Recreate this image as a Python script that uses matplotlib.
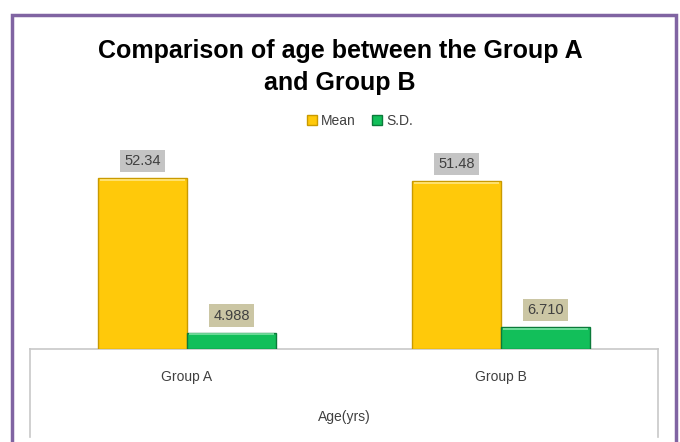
import numpy as np
import matplotlib
matplotlib.use("Agg")
import matplotlib.pyplot as plt
from matplotlib.patches import Rectangle
from matplotlib.lines import Line2D

# data
groups = ["Group A", "Group B"]
mean_age = [52.34, 51.48]
sd_age = [4.988, 6.710]
mean_labels = ["52.34", "51.48"]
sd_labels = ["4.988", "6.710"]

FONT = ["Liberation Sans Narrow", "Liberation Sans", "DejaVu Sans"]
plt.rcParams["font.family"] = FONT

W, H = 680, 442
fig = plt.figure(figsize=(W / 100, H / 100), dpi=100)


def fx(px):
    return px / W


def fy(py):
    return 1 - py / H


# purple outer frame (bottom edge falls outside the picture)
fig.patches.append(Rectangle((fx(12), fy(470)), fx(676) - fx(12), fy(15) - fy(470),
                             transform=fig.transFigure, fill=False,
                             edgecolor="#8064A2", linewidth=2.5))

ax = fig.add_axes([fx(30), fy(349), fx(658) - fx(30), fy(140) - fy(349)])

x = np.arange(len(groups))
w = 0.283
b1 = ax.bar(x - w / 2, mean_age, w, color="#FFC90A", edgecolor="#C99A00",
            linewidth=1.0, label="Mean", zorder=3)
b2 = ax.bar(x + w / 2, sd_age, w, color="#12BF5A", edgecolor="#0B7A3A",
            linewidth=1.0, label="S.D.", zorder=3)

# light highlight at the top edge of each bar (bevel look)
for bars, hl in ((b1, "#FFE680"), (b2, "#7FE3A6")):
    for r in bars:
        ax.plot([r.get_x() + 0.006, r.get_x() + r.get_width() - 0.006],
                [r.get_height() - 0.5, r.get_height() - 0.5],
                color=hl, lw=1.2, zorder=4, solid_capstyle="butt")

for r, t in zip(b1, mean_labels):
    ax.annotate(t, (r.get_x() + r.get_width() / 2, r.get_height()),
                xytext=(0, 17), textcoords="offset pixels", ha="center", va="center",
                fontsize=10.5, color="#404040",
                bbox=dict(boxstyle="square,pad=0.3", fc="#C4C4C4", ec="none"))
for r, t in zip(b2, sd_labels):
    ax.annotate(t, (r.get_x() + r.get_width() / 2, r.get_height()),
                xytext=(0, 17), textcoords="offset pixels", ha="center", va="center",
                fontsize=10.5, color="#404040",
                bbox=dict(boxstyle="square,pad=0.3", fc="#CBC6A4", ec="none"))

ax.set_xlim(-0.5, 1.5)
ax.set_ylim(0, 64)
ax.set_yticks([])
ax.set_xticks(x)
ax.set_xticklabels(groups, fontsize=10, color="#404040")
ax.tick_params(axis="x", length=0, pad=15)
ax.set_xlabel("Age(yrs)", fontsize=10, color="#404040", labelpad=19)
for s in ("left", "right", "top"):
    ax.spines[s].set_visible(False)
ax.spines["bottom"].set_color("#C8C8C8")
ax.spines["bottom"].set_linewidth(1.2)

# lower category box sides
for xp in (29.5, 658):
    fig.lines.append(Line2D([fx(xp), fx(xp)], [fy(349), fy(437)],
                            transform=fig.transFigure, color="#C8C8C8", lw=1.2))

fig.text(0.5, fy(51), "Comparison of age between the Group A", ha="center", va="center",
         fontsize=18, fontweight="bold", color="black")
fig.text(0.5, fy(83), "and Group B", ha="center", va="center",
         fontsize=18, fontweight="bold", color="black")

fig.legend(handles=[b1, b2], labels=["Mean", "S.D."], loc="center",
           bbox_to_anchor=(fx(360), fy(121)), ncol=2, frameon=False, fontsize=10,
           handlelength=0.7, handleheight=0.7, handletextpad=0.3, columnspacing=1.2,
           labelcolor="#404040")

fig.savefig("out.png", dpi=100)
